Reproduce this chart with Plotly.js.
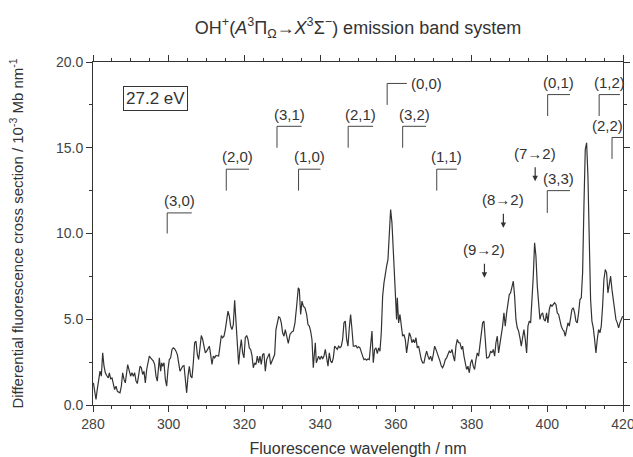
<!DOCTYPE html>
<html>
<head>
<meta charset="utf-8">
<script src="https://cdn.plot.ly/plotly-3.0.1.min.js"></script>
<style>html,body{margin:0;padding:0;background:#fff}#chart{width:633px;height:457px}</style>
</head>
<body>
<div id="chart"></div>
<script>
// Spectrum: fluorescence wavelength (nm)
var wavelength = [
280.1,280.44,280.79,281.15,281.59,281.85,282.2,282.56,282.91,283.26,283.61,284.05,284.32,284.67,285.02,285.37,285.72,286.08,286.43,286.78,
287.13,287.49,287.84,288.19,288.54,288.89,289.16,289.6,289.95,290.3,290.66,291.01,291.36,291.71,292.06,292.42,292.77,293.12,293.47,293.82,
294.18,294.53,294.88,295.23,295.58,295.94,296.29,296.64,296.99,297.34,297.52,297.87,298.14,298.4,298.75,299.11,299.46,299.81,300.16,300.51,
300.87,301.22,301.57,301.92,302.28,302.63,302.98,303.33,303.68,304.04,304.39,304.74,305.09,305.44,305.8,306.15,306.5,306.85,307.2,307.56,
307.91,308.26,308.61,308.97,309.32,309.67,310.02,310.37,310.73,311.08,311.43,311.78,312.13,312.49,312.84,313.19,313.54,313.9,314.25,314.6,
314.95,315.3,315.66,316.01,316.36,316.71,317.06,317.42,317.77,318.12,318.47,318.83,319.18,319.53,319.88,320.23,320.59,320.94,321.29,321.64,
321.99,322.35,322.7,323.05,323.4,323.75,324.11,324.46,324.81,325.16,325.52,325.87,326.22,326.57,326.92,327.28,327.63,327.98,328.33,328.68,
329.04,329.39,329.74,330.09,330.45,330.8,331.15,331.59,332.03,332.47,332.91,333.35,333.79,334.23,334.5,334.85,335.2,335.55,335.99,336.43,
336.79,337.14,337.49,337.84,338.19,338.46,338.72,338.99,339.25,339.6,339.95,340.31,340.66,341.01,341.36,341.72,342.07,342.42,342.77,343.12,
343.48,343.83,344.18,344.53,344.88,345.24,345.59,345.94,346.29,346.65,347.0,347.35,347.7,348.05,348.41,348.76,349.11,349.46,349.81,350.17,
350.52,350.87,351.22,351.58,351.93,352.28,352.63,352.98,353.34,353.69,354.04,354.39,354.75,355.1,355.45,355.8,356.15,356.51,356.86,357.21,
357.56,357.91,358.27,358.62,358.97,359.32,359.68,360.03,360.2,360.38,360.56,360.73,361.08,361.44,361.79,362.14,362.49,362.84,363.2,363.55,
363.9,364.25,364.61,364.96,365.31,365.66,366.01,366.37,366.72,367.07,367.42,367.78,368.13,368.48,368.83,369.18,369.54,369.89,370.24,370.59,
370.94,371.3,371.65,372.0,372.35,372.71,373.06,373.41,373.76,374.11,374.47,374.82,375.17,375.52,375.87,376.23,376.58,376.93,377.37,377.64,
377.99,378.34,378.69,379.04,379.4,379.75,380.1,380.45,380.8,381.16,381.51,381.86,382.21,382.57,382.92,383.27,383.62,383.97,384.33,384.68,
385.03,385.38,385.74,386.09,386.44,386.79,387.14,387.5,387.85,388.2,388.55,388.9,389.26,389.61,389.96,390.31,390.67,391.02,391.37,391.72,
392.07,392.43,392.78,393.13,393.48,393.83,394.19,394.54,394.89,395.24,395.6,395.95,396.3,396.65,397.0,397.36,397.71,398.06,398.41,398.76,
399.12,399.47,399.82,400.17,400.53,400.88,401.23,401.58,401.93,402.29,402.64,402.99,403.34,403.69,404.05,404.4,404.75,405.1,405.46,405.81,
406.16,406.51,406.86,407.22,407.57,407.92,408.27,408.63,408.98,409.33,409.68,410.03,410.39,410.74,411.09,411.44,411.79,412.15,412.5,412.85,
413.2,413.56,413.91,414.26,414.61,414.96,415.32,415.67,416.02,416.37,416.73,417.08,417.43,417.78,418.13,418.49,418.84,419.19,419.54,419.89
];
// Differential fluorescence cross section (10^-3 Mb nm^-1)
var crossSection = [
1.29,0.71,0.32,0.94,1.68,1.97,1.68,3.04,2.26,1.88,1.72,1.58,1.88,1.53,1.58,1.29,0.9,1.1,0.81,0.75,
0.71,1.1,1.88,1.49,1.29,1.88,2.36,1.97,1.68,1.88,1.68,1.88,1.39,1.25,1.68,2.26,2.17,1.78,1.97,1.29,
2.07,2.56,2.85,2.75,2.65,2.56,2.36,1.68,1.39,2.46,2.75,1.97,2.46,2.26,2.46,1.49,1.1,2.07,2.65,2.75,
3.24,3.33,3.27,3.14,2.94,2.46,1.97,2.11,2.26,2.3,1.68,0.71,1.68,2.26,1.68,1.58,2.46,3.63,3.72,2.94,
2.65,3.43,4.05,3.82,3.33,3.04,3.14,3.27,3.43,2.94,2.36,2.85,2.75,2.89,2.85,2.85,3.43,4.05,3.92,4.01,
4.4,4.99,5.47,5.18,4.6,4.4,4.69,6.11,4.79,3.43,2.36,3.24,3.82,3.04,2.75,3.92,4.05,3.82,3.33,3.24,
2.89,2.17,2.46,2.36,2.85,2.46,2.85,2.36,2.94,3.0,1.97,2.65,2.89,3.0,2.36,2.56,2.85,2.94,4.4,4.69,
5.14,5.08,4.79,4.21,4.01,4.4,4.01,3.59,4.11,4.25,4.31,4.79,5.76,6.83,6.74,5.28,6.06,5.76,5.67,5.28,
4.69,4.6,4.31,3.82,2.17,2.85,3.63,2.46,2.65,2.85,2.65,2.85,2.69,2.85,3.24,2.75,2.27,3.04,2.56,2.46,
2.75,3.43,3.33,3.24,3.43,3.33,3.43,3.82,4.79,4.89,3.82,3.43,4.5,5.28,4.4,3.43,3.43,3.47,3.33,3.39,
3.33,3.04,2.85,2.65,2.69,2.62,2.69,2.65,3.63,4.31,2.46,3.24,3.33,3.0,3.33,3.14,4.21,6.35,7.12,7.8,
8.1,8.48,10.04,11.4,10.62,9.07,7.71,6.15,4.99,6.25,5.57,4.79,5.28,4.4,4.01,4.11,3.82,3.04,3.72,4.21,
4.01,3.63,3.82,3.63,3.92,3.33,3.43,2.95,2.65,2.46,2.46,2.85,3.14,2.85,2.65,2.85,2.56,2.95,3.43,3.24,
3.04,2.75,2.56,2.27,2.17,2.36,2.65,2.75,2.95,3.14,3.04,3.24,2.85,2.56,3.43,3.82,3.63,3.63,3.24,3.43,
2.85,2.36,2.07,2.26,1.88,2.46,2.65,2.26,2.07,2.65,3.04,2.85,3.43,4.01,4.79,4.89,4.01,2.75,2.75,2.85,
3.14,3.04,3.24,2.85,3.63,4.01,3.04,3.53,4.01,4.6,5.37,4.6,5.37,5.96,6.44,6.54,6.93,7.22,6.35,4.99,
4.5,4.31,3.92,3.43,3.92,4.4,3.82,3.04,4.6,4.89,4.79,5.96,7.51,9.46,8.68,6.93,5.76,4.99,5.28,5.37,
4.99,4.89,5.37,4.79,5.57,5.86,5.76,5.86,5.96,5.86,5.37,5.28,4.89,4.6,4.4,4.31,4.01,4.4,4.79,4.6,
5.18,5.57,5.67,5.37,4.89,4.79,5.37,6.15,6.25,7.71,11.59,14.9,15.29,13.34,9.65,6.15,4.89,4.5,3.82,3.04,
3.82,4.4,4.21,4.6,5.76,7.32,7.9,7.71,6.54,6.93,7.51,6.74,6.15,5.76,4.99,4.79,4.5,4.79,4.99,5.18
];

// Vibrational band assignments (v',v'') with band-head wavelength and marker level
var bandLabels = ['(3,0)','(2,0)','(3,1)','(1,0)','(2,1)','(0,0)','(3,2)','(1,1)','(0,1)','(1,2)','(2,2)','(3,3)'];
var bandStart  = [299.6, 315.2, 328.6, 334.3, 347.4, 357.7, 361.8, 370.8, 400.1, 413.7, 417.1, 400.0];
var bandEnd    = [306.1, 321.2, 335.1, 340.1, 354.0, 362.9, 368.0, 376.1, 406.0, 419.2, 420.0, 406.0];
var bandBase   = [10.0, 12.5, 15.0, 12.5, 15.0, 17.5, 15.0, 12.5, 16.85, 16.85, 14.35, 11.2];
var bandTop    = [11.2, 13.75, 16.25, 13.75, 16.25, 18.75, 16.25, 13.75, 18.1, 18.1, 15.6, 12.5];

// A -> X (v' -> 2) progression arrows
var arrowLabels = ['(9\u21922)','(8\u21922)','(7\u21922)','(6\u21922)'];
var arrowWl     = [383.4, 388.4, 396.8, 410.2];
var arrowTip    = [7.42, 10.33, 13.05, 20.3];

var energyLabel = '27.2 eV';

var FONT = '"Liberation Sans", Arial, Helvetica, sans-serif';
var TXT = '#333';

var shapes = [];
var annotations = [];
for (var i = 0; i < bandLabels.length; i++) {
  shapes.push({
    type: 'path', xref: 'x', yref: 'y',
    path: 'M ' + bandStart[i] + ',' + bandBase[i] + ' L ' + bandStart[i] + ',' + bandTop[i] + ' L ' + bandEnd[i] + ',' + bandTop[i],
    line: {color: '#444', width: 1}
  });
  if (bandLabels[i] === '(0,0)') {
    annotations.push({x: bandEnd[i] + 0.6, y: bandTop[i], xref: 'x', yref: 'y', text: bandLabels[i],
      showarrow: false, xanchor: 'left', yanchor: 'middle', font: {family: FONT, size: 15, color: TXT}});
  } else if (bandLabels[i] === '(2,2)') {
    annotations.push({x: bandStart[i] - 1.1, y: bandTop[i] + 0.1, xref: 'x', yref: 'y', text: bandLabels[i],
      showarrow: false, xanchor: 'center', yanchor: 'bottom', font: {family: FONT, size: 15, color: TXT}});
  } else {
    annotations.push({x: (bandStart[i] + bandEnd[i]) / 2, y: bandTop[i] + 0.1, xref: 'x', yref: 'y', text: bandLabels[i],
      showarrow: false, xanchor: 'center', yanchor: 'bottom', font: {family: FONT, size: 15, color: TXT}});
  }
}
for (var j = 0; j < arrowLabels.length; j++) {
  annotations.push({x: arrowWl[j], y: arrowTip[j], xref: 'x', yref: 'y', text: arrowLabels[j],
    showarrow: true, ax: 0, ay: -28, arrowhead: 2, arrowsize: 0.9, arrowwidth: 1.2, arrowcolor: '#333',
    startstandoff: 4, font: {family: FONT, size: 15, color: TXT}});
}
annotations.push({x: 296.6, y: 17.87, xref: 'x', yref: 'y', text: energyLabel, showarrow: false,
  bordercolor: '#333', borderwidth: 1, borderpad: 2, font: {family: FONT, size: 17, color: TXT}});

var trace = {
  x: wavelength, y: crossSection, type: 'scatter', mode: 'lines',
  line: {color: '#333', width: 1.2}, hoverinfo: 'skip'
};

var axisCommon = {
  showgrid: false, zeroline: false, showline: true, linecolor: '#333', linewidth: 1,
  mirror: 'allticks', ticks: 'outside', ticklen: 6, tickwidth: 1, tickcolor: '#333',
  tickfont: {family: FONT, size: 14, color: '#444'}, ticklabeloverflow: 'allow'
};

var layout = {
  width: 633, height: 457,
  margin: {l: 93, r: 10, t: 62, b: 52},
  paper_bgcolor: '#fff', plot_bgcolor: '#fff',
  showlegend: false,
  font: {family: FONT, color: TXT},
  title: {
    text: 'OH<sup>+</sup>(<i>A</i><sup>3</sup>\u03a0<sub>\u03a9</sub>\u2192<i>X</i><sup>3</sup>\u03a3<sup>\u2212</sup>) emission band system',
    font: {family: FONT, size: 18, color: TXT},
    x: 0.5, xref: 'paper', y: 0.94, yref: 'container', yanchor: 'middle'
  },
  xaxis: Object.assign({}, axisCommon, {
    range: [280, 420], tick0: 280, dtick: 20,
    minor: {dtick: 5, ticks: 'outside', ticklen: 3, tickcolor: '#333'},
    title: {text: 'Fluorescence wavelength / nm', font: {family: FONT, size: 16, color: TXT}, standoff: 12}
  }),
  yaxis: Object.assign({}, axisCommon, {
    range: [0, 20], tick0: 0, dtick: 5, tickformat: '.1f',
    minor: {dtick: 2.5, ticks: 'outside', ticklen: 3, tickcolor: '#333'},
    title: {text: 'Differential fluorescence cross section / 10<sup>-3</sup> Mb nm<sup>-1</sup>', font: {family: FONT, size: 15, color: TXT}, standoff: 28}
  }),
  shapes: shapes,
  annotations: annotations
};

Plotly.newPlot('chart', [trace], layout, {staticPlot: true, displayModeBar: false});
</script>
</body>
</html>
